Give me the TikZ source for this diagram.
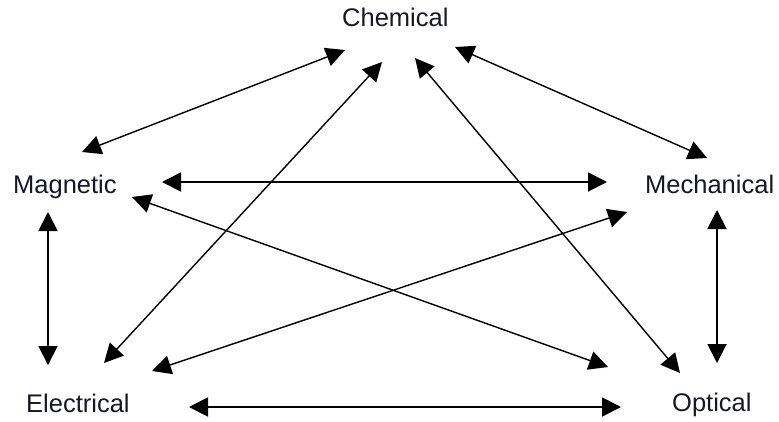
\documentclass[tikz,border=0pt]{standalone}
\usepackage{fontspec}
\setmainfont{Liberation Sans}
\usetikzlibrary{arrows.meta}
\definecolor{ink}{RGB}{22,24,40}
\tikzset{
  label/.style={anchor=base west, inner sep=0pt, text=ink, font=\fontsize{25.5}{30}\selectfont},
  link/.style={line width=1.4pt, {Triangle[length=19pt,width=19pt]}-{Triangle[length=19pt,width=19pt]}},
  straight/.style={link, line width=1.9pt}
}
\begin{document}
\begin{tikzpicture}[x=1pt,y=-1pt]
\useasboundingbox (0,0) rectangle (779,421);
\fill[white] (0,0) rectangle (779,421);
% energy domains
\node[label] (chem) at (342,26) {Chemical};
\node[label] (mag)  at (13,193) {Magnetic};
\node[label] (mech) at (645,193) {Mechanical};
\node[label] (elec) at (26,412) {Electrical};
\node[label] (opt)  at (672,411) {Optical};
% two-way conversions, diagonal
\draw[link] ([shift={(3,24)}]chem.base west) -- ([shift={(69,-41)}]mag.base west);
\draw[link] ([shift={(40,36)}]chem.base west) -- ([shift={(78,-49)}]elec.base west);
\draw[link] ([shift={(73,32)}]chem.base west) -- ([shift={(8,-38)}]opt.base west);
\draw[link] ([shift={(113,21)}]chem.base west) -- ([shift={(62,-35)}]mech.base west);
\draw[link] ([shift={(119,4)}]mag.base west) -- ([shift={(-64,-44)}]opt.base west);
\draw[link] ([shift={(126,-41)}]elec.base west) -- ([shift={(-18,19)}]mech.base west);
% two-way conversions, horizontal and vertical
\draw[straight] ([shift={(149,-11)}]mag.base west) -- ([shift={(-38,-11)}]mech.base west);
\draw[straight] ([shift={(35,19)}]mag.base west) -- ([shift={(22,-47)}]elec.base west);
\draw[straight] ([shift={(72,17)}]mech.base west) -- ([shift={(45,-48)}]opt.base west);
\draw[straight] ([shift={(163,-5)}]elec.base west) -- ([shift={(-51,-4)}]opt.base west);
\end{tikzpicture}
\end{document}
